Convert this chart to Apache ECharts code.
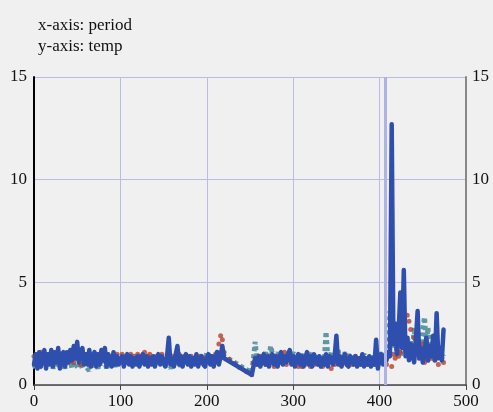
<!DOCTYPE html>
<html>
<head>
<meta charset="utf-8">
<script src="https://cdn.jsdelivr.net/npm/echarts@6/dist/echarts.min.js"></script>
<style>html,body{margin:0;padding:0;background:#f0f0f0;}#c{width:493px;height:412px;}</style>
</head>
<body>
<div id="c"></div>
<script>
var periods = [
0,2,4,6,8,10,12,14,16,18,
20,22,24,26,28,30,32,34,36,38,
40,42,44,46,48,50,52,54,56,58,
60,62,64,66,68,70,72,74,76,78,
80,82,84,86,88,90,92,94,96,98,
100,102,104,106,108,110,112,114,116,118,
120,122,124,126,128,130,132,134,136,138,
140,142,144,146,148,150,152,154,156,158,
160,162,164,166,168,170,172,174,176,178,
180,182,184,186,188,190,192,194,196,198,
200,202,204,206,208,210,212,214,216,218,
220,
252,
254,256,258,260,262,264,266,268,270,
272,274,276,278,280,282,284,286,288,290,
292,294,296,298,300,302,304,306,308,310,
312,314,316,318,320,322,324,326,328,330,
332,334,336,338,340,342,344,346,348,350,
352,354,356,358,360,362,364,366,368,370,
372,374,376,378,380,382,384,386,388,390,
392,394,396,398,400,402,404,406,408,410,
412,414,416,418,420,422,424,426,428,430,
432,434,436,438,440,442,444,446,448,450,
452,454,456,458,460,462,464,466,468,470,
472,474
];
var blueTemp = [
1.0,1.5,0.8,1.6,0.9,1.4,1.7,0.8,1.5,1.0,
1.7,0.9,1.6,1.1,1.8,0.8,1.5,1.6,0.9,1.6,
1.1,1.7,1.2,1.9,1.3,2.1,1.1,1.6,1.8,1.0,
1.5,1.0,1.7,0.9,1.4,1.6,0.9,1.5,1.0,1.7,
1.2,1.8,0.9,1.5,1.1,0.9,1.6,1.0,1.4,1.0,
1.0,1.4,0.9,1.3,1.5,1.0,1.4,0.9,1.3,1.0,
1.4,0.9,1.3,1.5,1.0,1.4,0.9,1.3,1.0,1.4,
0.9,1.3,1.5,1.0,1.4,1.1,0.9,1.4,2.3,1.0,
1.3,0.9,1.5,1.9,1.0,1.4,0.9,1.3,1.5,1.0,
1.4,0.9,1.3,1.0,1.5,0.9,1.3,1.4,1.0,0.9,
1.3,1.5,1.0,1.4,0.9,1.3,1.6,1.0,1.4,1.9,
1.3,
0.5,
0.9,1.3,1.0,1.4,0.9,1.3,1.5,1.0,1.4,
0.9,1.3,1.5,1.0,1.4,0.9,1.3,1.6,1.0,1.4,
1.1,1.5,1.7,1.0,1.4,0.9,1.3,1.5,1.0,1.4,
0.9,1.3,1.6,1.0,1.4,0.9,1.5,1.3,1.0,1.4,
0.9,1.3,1.0,1.5,0.9,1.4,1.3,1.0,1.4,2.4,
1.0,1.4,0.9,1.3,1.5,1.0,0.9,1.4,1.3,1.0,
1.4,0.9,1.3,1.0,1.5,0.9,1.3,1.0,1.4,0.9,
1.3,1.0,2.2,0.8,1.3,1.5,1.0,1.4,1.2,1.6,
1.4,12.7,2.0,3.0,1.5,2.6,4.5,1.8,5.6,1.4,
2.3,1.2,2.0,1.5,1.1,2.2,3.6,1.3,1.8,1.1,
1.6,2.3,1.2,1.9,1.4,2.4,1.2,3.5,1.3,1.8,
1.2,2.7
];
var tealTemp = [
1.0,0.8,1.2,0.8,1.1,1.3,0.9,1.2,0.9,1.1,
1.3,0.8,1.1,1.2,0.9,0.8,1.2,1.1,0.8,1.3,
1.0,1.2,0.8,1.1,1.3,0.9,0.8,1.1,0.8,1.2,
0.9,0.8,0.7,1.1,0.8,1.2,1.0,0.8,1.3,1.0,
1.1,1.2,0.8,1.3,1.0,0.9,1.2,0.9,1.1,1.0,
1.2,1.1,1.3,1.0,1.2,1.1,1.4,1.0,1.2,1.3,
1.1,1.2,1.0,1.3,1.1,1.4,1.2,1.0,1.5,1.1,
1.2,1.0,1.3,1.1,1.0,1.2,0.9,1.1,1.0,0.8,
1.1,1.2,1.0,1.3,1.1,0.9,1.2,1.0,1.3,1.1,
1.2,1.0,1.1,1.3,1.0,1.2,1.1,1.4,1.2,1.1,
1.6,1.2,1.4,1.1,1.5,1.3,1.2,1.6,1.4,1.7,
1.4,
0.6,
1.3,2.1,1.2,1.4,1.1,1.5,1.3,1.6,1.2,
1.4,1.9,1.5,1.3,1.2,1.6,1.3,1.4,1.2,1.5,
1.3,1.5,1.2,1.4,1.6,1.2,1.3,1.5,1.2,1.6,
1.1,1.3,1.5,1.2,1.4,1.6,1.3,1.2,1.4,1.1,
1.3,1.5,1.2,2.6,1.4,1.3,1.6,1.2,1.4,1.3,
1.7,1.2,1.4,1.1,1.6,1.3,1.5,1.2,1.4,1.3,
1.1,1.4,1.2,1.3,1.3,1.5,1.2,1.3,1.1,1.4,
1.2,1.5,1.3,1.1,1.6,1.2,1.6,1.3,1.5,1.4,
3.6,2.9,1.8,2.4,1.6,2.2,1.4,2.0,2.6,1.8,
2.4,1.6,2.2,1.5,2.8,1.9,1.4,2.1,1.7,2.7,
3.3,2.0,2.8,1.5,1.8,1.3,2.2,1.4,1.6,1.9,
1.3,1.5
];
var redTemp = [
1.4,1.2,1.5,1.3,1.6,1.1,1.3,1.4,1.2,1.5,
1.3,1.1,1.4,1.2,1.5,1.3,1.0,1.4,1.2,1.3,
1.5,1.2,1.4,1.1,1.3,1.6,1.2,1.0,1.4,1.3,
1.2,1.5,1.1,1.3,1.4,1.2,1.5,1.1,1.3,1.2,
1.4,1.2,1.5,1.3,1.1,1.4,1.2,1.3,1.5,1.2,
1.3,1.5,1.2,1.4,1.1,1.3,1.5,1.2,1.4,1.3,
1.5,1.2,1.4,1.3,1.6,1.1,1.4,1.5,1.2,1.3,
1.1,1.4,1.2,1.3,1.5,1.2,1.0,1.4,1.3,1.2,
1.4,1.1,1.3,1.2,1.5,1.3,1.1,1.4,1.2,1.3,
1.2,1.4,1.1,1.3,1.2,1.0,1.4,1.2,1.3,1.1,
1.3,1.2,1.4,1.1,1.3,1.5,1.6,2.0,2.4,2.2,
1.6,
0.5,
1.1,1.3,1.0,1.2,1.4,1.1,1.3,1.0,1.2,
1.4,1.1,1.3,0.9,1.2,1.0,1.4,1.1,1.3,1.6,
1.0,1.2,1.4,1.1,1.3,1.0,1.2,0.9,1.1,0.9,
1.2,1.0,1.3,1.1,0.9,1.2,1.0,1.3,1.1,1.0,
1.2,0.9,1.1,1.3,1.0,1.2,0.8,1.1,1.0,1.3,
1.1,1.0,1.2,1.1,1.3,1.0,1.2,1.1,1.0,1.3,
1.4,1.2,1.1,1.0,1.3,1.1,1.2,1.0,1.3,1.1,
1.2,1.0,1.1,1.3,1.2,1.2,1.1,1.3,1.0,1.4,
2.2,0.9,1.5,1.3,1.8,1.4,1.6,2.6,2.3,1.7,
3.4,3.1,2.7,1.9,2.3,1.5,1.8,1.3,1.6,2.0,
1.1,1.4,1.2,1.6,1.3,1.5,1.2,1.4,1.0,1.8,
1.3,1.1
];
var redExtraPeriods = [226, 232, 238, 246];
var redExtraTemp = [1.25, 1.05, 0.85, 0.65];
var markerPeriod = 407;

function pairs(xs, ys) { var o = []; for (var i = 0; i < xs.length; i++) o.push([xs[i], ys[i]]); return o; }
var redData = pairs(periods, redTemp).concat(pairs(redExtraPeriods, redExtraTemp));

var font = '"Liberation Serif", "Times New Roman", serif';
var chart = echarts.init(document.getElementById('c'));
chart.setOption({
  backgroundColor: '#f0f0f0',
  animation: false,
  title: {
    text: 'x-axis: period\ny-axis: temp',
    left: 33, top: 10,
    textStyle: { fontFamily: font, fontSize: 17, fontWeight: 'normal', color: '#111', lineHeight: 21 }
  },
  grid: { left: 34, right: 27, top: 77, bottom: 27 },
  xAxis: {
    type: 'value', min: 0, max: 500, interval: 100,
    axisLine: { lineStyle: { color: '#444', width: 1.5 } },
    axisTick: { show: true, length: 5, lineStyle: { color: '#444' } },
    axisLabel: { fontFamily: font, fontSize: 17, color: '#111', margin: 8 },
    splitLine: { show: true, lineStyle: { color: '#b8bce6', width: 1 } }
  },
  yAxis: [
    {
      type: 'value', min: 0, max: 15, interval: 5, position: 'left',
      axisLine: { show: true, lineStyle: { color: '#000', width: 2 } },
      axisTick: { show: false },
      axisLabel: { fontFamily: font, fontSize: 17, color: '#111', margin: 7 },
      splitLine: { show: true, lineStyle: { color: '#b8bce6', width: 1 } }
    },
    {
      type: 'value', min: 0, max: 15, interval: 5, position: 'right',
      axisLine: { show: true, lineStyle: { color: '#888', width: 2 } },
      axisTick: { show: false },
      axisLabel: { fontFamily: font, fontSize: 17, color: '#111', margin: 6 },
      splitLine: { show: false }
    }
  ],
  series: [
    {
      type: 'line', data: pairs(periods, tealTemp), showSymbol: false,
      lineStyle: { color: '#5f97a3', width: 5, type: [4, 3], cap: 'butt' },
      z: 2,
      markLine: {
        silent: true, symbol: 'none', label: { show: false },
        lineStyle: { color: '#aeb2e4', width: 3, type: 'solid' },
        data: [{ xAxis: markerPeriod }]
      }
    },
    {
      type: 'scatter', data: redData, symbolSize: 5,
      itemStyle: { color: '#b8402e' }, z: 3
    },
    {
      type: 'line', data: pairs(periods, blueTemp), showSymbol: false,
      lineStyle: { color: '#2f4fae', width: 4.5, cap: 'round', join: 'round' },
      z: 4
    }
  ]
});
</script>
</body>
</html>
